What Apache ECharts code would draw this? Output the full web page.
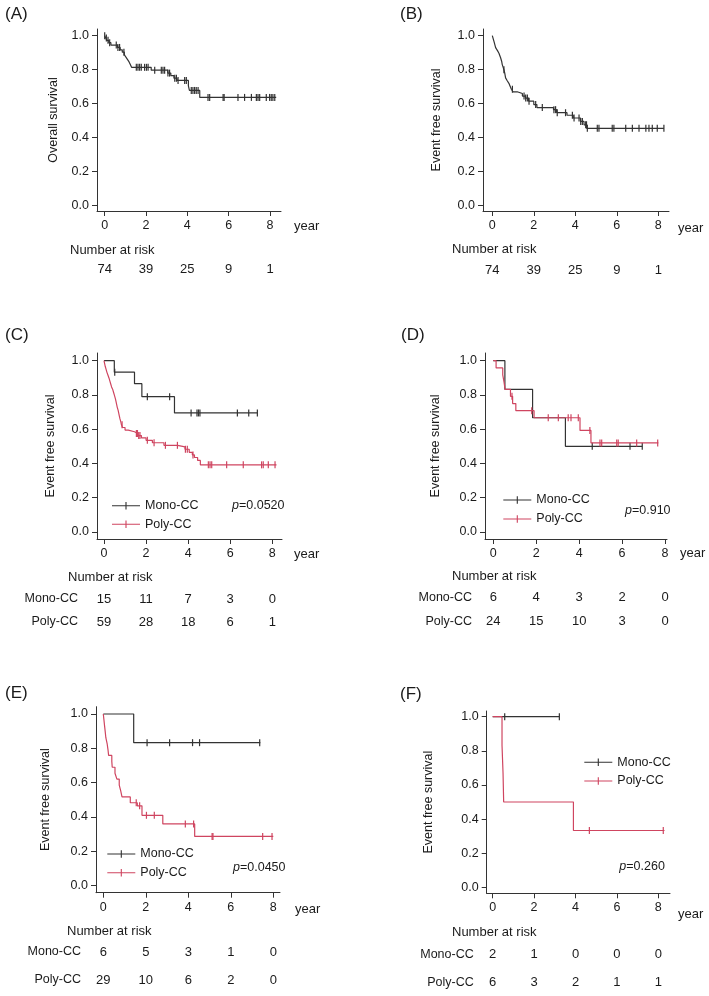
<!DOCTYPE html>
<html>
<head>
<meta charset="utf-8">
<script src="https://cdn.jsdelivr.net/npm/echarts@6/dist/echarts.min.js"></script>
<style>
  html, body { margin: 0; padding: 0; background: #fff; }
  #main { width: 709px; height: 996px; }
</style>
</head>
<body>
<div id="main"></div>
<script>
// ---- data ----
const xTicks = [0, 2, 4, 6, 8];
const yTicks = [0, 0.2, 0.4, 0.6, 0.8, 1.0];
const riskTimes = [0, 2, 4, 6, 8];

// (A) overall survival, all patients
const stepsA = [[0,1],[0.05,0.986],[0.1,0.973],[0.2,0.959],[0.3,0.945],[0.62,0.931],[0.75,0.917],[0.85,0.903],[0.95,0.889],[1.02,0.875],[1.1,0.861],[1.18,0.846],[1.24,0.83],[1.3,0.814],[2.25,0.797],[3.05,0.78],[3.2,0.765],[3.35,0.75],[3.5,0.737],[4.05,0.705],[4.1,0.678],[4.6,0.637]];
const endA = 8.3;
const censorA = [0,0.08,0.16,0.24,0.56,0.64,0.72,0.93,1.53,1.61,1.69,1.77,1.93,2.02,2.1,2.42,2.74,2.82,2.9,3.06,3.14,3.39,3.47,3.55,3.87,3.95,4.19,4.27,4.35,4.43,4.52,5.0,5.08,5.73,5.78,6.45,6.77,7.1,7.34,7.42,7.5,7.82,7.98,8.06,8.14,8.23];
const riskA = [74, 39, 25, 9, 1];

// (B) event free survival, all patients
const stepsB = [[0,1],[0.08,0.967],[0.16,0.93],[0.25,0.912],[0.32,0.897],[0.4,0.87],[0.45,0.85],[0.48,0.83],[0.52,0.815],[0.56,0.8],[0.6,0.78],[0.64,0.752],[0.72,0.735],[0.8,0.72],[0.87,0.7],[0.92,0.685],[1.0,0.67],[1.2,0.66],[1.45,0.645],[1.6,0.633],[1.75,0.615],[2.0,0.595],[2.15,0.577],[2.95,0.565],[3.1,0.547],[3.6,0.532],[3.9,0.516],[4.25,0.496],[4.42,0.476],[4.55,0.455]];
const endB = 8.27;
const censorB = [0.56,0.97,1.53,1.61,1.69,1.77,2.09,2.41,2.97,3.05,3.13,3.53,3.86,3.94,4.18,4.26,4.34,4.5,4.54,4.58,5.06,5.14,5.78,5.86,6.43,6.75,7.07,7.4,7.55,7.71,7.95,8.27];
const riskB = [74, 39, 25, 9, 1];

// (C)
const stepsCMono = [[0,1],[0.49,0.933],[1.45,0.866],[1.8,0.79],[3.35,0.695]];
const endCMono = 7.29;
const censorCMono = [0.51,2.06,3.12,4.14,4.42,4.49,4.56,6.34,6.88,7.29];
const stepsCPoly = [[0,1],[0.03,0.983],[0.06,0.966],[0.1,0.949],[0.14,0.932],[0.19,0.915],[0.24,0.898],[0.28,0.881],[0.32,0.864],[0.36,0.847],[0.42,0.83],[0.46,0.813],[0.5,0.796],[0.54,0.779],[0.57,0.762],[0.6,0.745],[0.63,0.728],[0.67,0.711],[0.7,0.694],[0.73,0.677],[0.76,0.66],[0.8,0.643],[0.83,0.626],[0.88,0.61],[1.0,0.595],[1.15,0.585],[1.45,0.575],[1.6,0.563],[1.78,0.549],[2.0,0.535],[2.3,0.521],[2.85,0.506],[3.5,0.497],[3.85,0.483],[4.05,0.465],[4.2,0.45],[4.3,0.435],[4.45,0.418],[4.58,0.392]];
const endCPoly = 8.2;
const censorCPoly = [0.86,1.54,1.59,1.65,1.71,2.06,2.38,2.92,3.49,3.87,3.96,4.23,4.96,5.04,5.12,5.83,6.62,7.49,7.57,7.81,8.13];
const riskCMono = [15, 11, 7, 3, 0];
const riskCPoly = [59, 28, 18, 6, 1];

// (D)
const stepsDMono = [[0,1],[0.54,0.833],[1.83,0.667],[3.36,0.5]];
const endDMono = 6.94;
const censorDMono = [4.61,6.37,6.94];
const stepsDPoly = [[0,1],[0.13,0.958],[0.44,0.917],[0.5,0.875],[0.55,0.833],[0.8,0.792],[0.9,0.75],[1.05,0.708],[1.9,0.667],[4.04,0.593],[4.55,0.52]];
const endDPoly = 7.69;
const censorDPoly = [0.87,1.79,2.56,3.03,3.49,3.62,3.96,4.5,4.97,5.05,5.75,5.82,6.68,7.66];
const riskDMono = [6, 4, 3, 2, 0];
const riskDPoly = [24, 15, 10, 3, 0];

// (E)
const stepsEMono = [[0,1],[1.43,0.833]];
const endEMono = 7.39;
const censorEMono = [2.06,3.12,4.2,4.53,7.36];
const stepsEPoly = [[0,1],[0.03,0.966],[0.06,0.931],[0.09,0.897],[0.12,0.862],[0.18,0.828],[0.22,0.793],[0.25,0.759],[0.4,0.724],[0.42,0.69],[0.55,0.655],[0.64,0.621],[0.75,0.586],[0.82,0.552],[0.88,0.517],[1.27,0.483],[1.6,0.465],[1.82,0.41],[2.8,0.36],[4.3,0.287]];
const endEPoly = 8.0;
const censorEPoly = [1.55,1.71,2.03,2.4,3.86,4.25,5.12,5.16,7.5,7.94];
const riskEMono = [6, 5, 3, 1, 0];
const riskEPoly = [29, 10, 6, 2, 0];

// (F)
const stepsFMono = [[0,1]];
const endFMono = 3.22;
const censorFMono = [0.58,3.22];
const stepsFPoly = [[0,1],[0.45,0.833],[0.5,0.667],[0.53,0.5],[3.9,0.333]];
const endFPoly = 8.3;
const censorFPoly = [4.67,8.24];
const riskFMono = [2, 1, 0, 0, 0];
const riskFPoly = [6, 3, 2, 1, 1];

// ---- styling ----
const FONT = '"Liberation Sans", Arial, sans-serif';
const INK = '#1a1a1a';
const AXIS = '#333333';
const BLACK = '#333333';
const RED = '#cf4560';
const tickIcon = 'path://M0,3.4L30,3.4L30,4.6L0,4.6Z M14.4,0L15.6,0L15.6,8L14.4,8Z';

function survAt(steps, t) {
  let s = steps[0][1];
  steps.forEach(function (p) { if (p[0] <= t) s = p[1]; });
  return s;
}

const panels = [
  { label: '(A)', yName: 'Overall survival', nameGap: 37,
    box: { axisX: 97, axisY: 211, x0: 104.7, x8: 270, y1: 35.7, y0: 205.7, right: 281, top: 29 },
    labelPos: [5, 14], yearPos: [294, 226], narPos: [70, 250],
    curves: [{ name: 'All', steps: stepsA, end: endA, censor: censorA, color: BLACK }],
    risk: { rows: [{ name: 'All', counts: riskA }], y: [269], rowH: 20 } },
  { label: '(B)', yName: 'Event free survival', nameGap: 40,
    box: { axisX: 483, axisY: 211, x0: 492.3, x8: 658.3, y1: 35.7, y0: 205.7, right: 669, top: 29 },
    labelPos: [400, 14], yearPos: [678, 228], narPos: [452, 249],
    curves: [{ name: 'All', steps: stepsB, end: endB, censor: censorB, color: BLACK }],
    risk: { rows: [{ name: 'All', counts: riskB }], y: [270], rowH: 20 } },
  { label: '(C)', yName: 'Event free survival', nameGap: 40,
    box: { axisX: 97, axisY: 539, x0: 104, x8: 272.3, y1: 360.7, y0: 532, right: 282, top: 353 },
    labelPos: [5, 335], yearPos: [294, 554], narPos: [68, 577],
    curves: [
      { name: 'Mono-CC', steps: stepsCMono, end: endCMono, censor: censorCMono, color: BLACK },
      { name: 'Poly-CC', steps: stepsCPoly, end: endCPoly, censor: censorCPoly, color: RED }],
    risk: { rows: [{ name: 'Mono-CC', counts: riskCMono }, { name: 'Poly-CC', counts: riskCPoly }], y: [599], rowH: 23, labelGap: 19 },
    legend: { x: 112, y: 505.7, gap: 18.6 }, p: { x: 232, y: 505.7, text: '0.0520' } },
  { label: '(D)', yName: 'Event free survival', nameGap: 43,
    box: { axisX: 485, axisY: 539, x0: 493.3, x8: 665, y1: 360.7, y0: 532, right: 667, top: 353 },
    labelPos: [401, 335], yearPos: [680, 553], narPos: [452, 576],
    curves: [
      { name: 'Mono-CC', steps: stepsDMono, end: endDMono, censor: censorDMono, color: BLACK },
      { name: 'Poly-CC', steps: stepsDPoly, end: endDPoly, censor: censorDPoly, color: RED }],
    risk: { rows: [{ name: 'Mono-CC', counts: riskDMono }, { name: 'Poly-CC', counts: riskDPoly }], y: [597.7], rowH: 24, labelGap: 13 },
    legend: { x: 503.3, y: 500, gap: 19 }, p: { x: 625, y: 510.7, text: '0.910' } },
  { label: '(E)', yName: 'Event free survival', nameGap: 44,
    box: { axisX: 96, axisY: 892.7, x0: 103.3, x8: 273.3, y1: 714, y0: 885.7, right: 280, top: 706.7 },
    labelPos: [5, 693], yearPos: [295, 909], narPos: [67, 931],
    curves: [
      { name: 'Mono-CC', steps: stepsEMono, end: endEMono, censor: censorEMono, color: BLACK },
      { name: 'Poly-CC', steps: stepsEPoly, end: endEPoly, censor: censorEPoly, color: RED }],
    risk: { rows: [{ name: 'Mono-CC', counts: riskEMono }, { name: 'Poly-CC', counts: riskEPoly }], y: [952], rowH: 28, labelGap: 15 },
    legend: { x: 107.3, y: 854, gap: 18.7 }, p: { x: 233, y: 867.3, text: '0.0450' } },
  { label: '(F)', yName: 'Event free survival', nameGap: 52,
    box: { axisX: 486.7, axisY: 893.3, x0: 492.7, x8: 658.3, y1: 716.7, y0: 887.3, right: 670, top: 711 },
    labelPos: [400, 694], yearPos: [678, 914], narPos: [452, 932],
    curves: [
      { name: 'Mono-CC', steps: stepsFMono, end: endFMono, censor: censorFMono, color: BLACK },
      { name: 'Poly-CC', steps: stepsFPoly, end: endFPoly, censor: censorFPoly, color: RED }],
    risk: { rows: [{ name: 'Mono-CC', counts: riskFMono }, { name: 'Poly-CC', counts: riskFPoly }], y: [955], rowH: 28, labelGap: 13 },
    legend: { x: 584.3, y: 762.3, gap: 18.7 }, p: { x: 619.3, y: 866.7, text: '0.260' } }
];

const option = { animation: false, grid: [], xAxis: [], yAxis: [], series: [], legend: [], graphic: [] };

function addText(x, y, text, size) {
  option.graphic.push({ type: 'text', x: x, y: y, silent: true,
    style: { text: text, fontSize: size, fontFamily: FONT, fill: INK, verticalAlign: 'middle' } });
}

panels.forEach(function (p) {
  const b = p.box;
  const perX = (b.x8 - b.x0) / 8, perY = b.y0 - b.y1;
  const xMin = (b.axisX - b.x0) / perX, xMax = (b.right - b.x0) / perX;
  const yMin = -(b.axisY - b.y0) / perY, yMax = (b.y0 - b.top) / perY;

  // survival plot
  const gi = option.grid.length;
  option.grid.push({ left: b.axisX, top: b.top, width: b.right - b.axisX, height: b.axisY - b.top });
  option.xAxis.push({
    gridIndex: gi, type: 'value', min: xMin, max: xMax,
    axisLine: { onZero: false, lineStyle: { color: AXIS, width: 1 } },
    axisTick: { customValues: xTicks, length: 5, lineStyle: { color: AXIS } },
    axisLabel: { customValues: xTicks, margin: 8, color: INK, fontSize: 12.5, fontFamily: FONT },
    splitLine: { show: false }
  });
  option.yAxis.push({
    gridIndex: gi, type: 'value', min: yMin, max: yMax,
    name: p.yName, nameLocation: 'middle', nameGap: p.nameGap, nameRotate: 90,
    nameTextStyle: { color: INK, fontSize: 12.5, fontFamily: FONT },
    axisLine: { show: true, onZero: false, lineStyle: { color: AXIS, width: 1 } },
    axisTick: { show: true, customValues: yTicks, length: 5, lineStyle: { color: AXIS } },
    axisLabel: { customValues: yTicks, margin: 8, color: INK, fontSize: 12.5, fontFamily: FONT,
      formatter: function (v) { return v.toFixed(1); } },
    splitLine: { show: false }
  });
  p.curves.forEach(function (c, k) {
    const last = c.steps[c.steps.length - 1][1];
    option.series.push({
      type: 'line', name: c.name, xAxisIndex: gi, yAxisIndex: gi, step: 'end',
      data: c.steps.concat([[c.end, last]]), symbol: 'none', showSymbol: false,
      lineStyle: { color: c.color, width: 1.2 }, itemStyle: { color: c.color }, z: 2 + k, silent: true
    });
    option.series.push({
      type: 'scatter', name: c.name + ' censored', xAxisIndex: gi, yAxisIndex: gi,
      data: c.censor.map(function (t) { return [t, survAt(c.steps, t)]; }),
      symbol: 'rect', symbolSize: [1.2, 7], itemStyle: { color: c.color, opacity: 1 }, z: 2 + k, silent: true
    });
  });

  // number-at-risk table, sharing the same x scale
  const r = p.risk;
  const ri = option.grid.length;
  const rowNames = r.rows.map(function (row) { return row.name; });
  option.grid.push({ left: b.axisX, top: r.y[0] - r.rowH / 2, width: b.right - b.axisX, height: r.rowH * r.rows.length });
  option.xAxis.push({ gridIndex: ri, type: 'value', min: xMin, max: xMax, show: false });
  option.yAxis.push({
    gridIndex: ri, type: 'category', data: rowNames, inverse: true,
    axisLine: { show: false }, axisTick: { show: false }, splitLine: { show: false },
    axisLabel: { show: r.rows.length > 1, margin: r.labelGap || 10, color: INK, fontSize: 12.5, fontFamily: FONT }
  });
  r.rows.forEach(function (row) {
    option.series.push({
      type: 'scatter', name: 'risk ' + row.name, xAxisIndex: ri, yAxisIndex: ri,
      symbolSize: 1, itemStyle: { color: 'transparent', opacity: 1 }, silent: true,
      data: riskTimes.map(function (t, i) { return [t, row.name, row.counts[i]]; }),
      label: { show: true, position: 'inside', color: INK, opacity: 1, textBorderWidth: 0,
        fontSize: 13, fontFamily: FONT,
        formatter: function (q) { return String(q.value[2]); } }
    });
  });

  // legend
  if (p.legend) {
    option.legend.push({
      left: p.legend.x, top: p.legend.y - 7, orient: 'vertical', padding: 0,
      itemWidth: 28, itemHeight: 8, itemGap: p.legend.gap - 14, selectedMode: false,
      data: [{ name: 'Mono-CC', icon: tickIcon }, { name: 'Poly-CC', icon: tickIcon }],
      textStyle: { color: INK, fontSize: 12.5, fontFamily: FONT, lineHeight: 14 }
    });
  }
  if (p.p) {
    option.graphic.push({ type: 'text', x: p.p.x, y: p.p.y, silent: true,
      style: { text: '{i|p}=' + p.p.text, fontSize: 12.5, fontFamily: FONT, fill: INK, verticalAlign: 'middle',
        rich: { i: { fontStyle: 'italic', fontSize: 12.5, fontFamily: FONT, fill: INK } } } });
  }

  addText(p.labelPos[0], p.labelPos[1], p.label, 17);
  addText(p.yearPos[0], p.yearPos[1], 'year', 13);
  addText(p.narPos[0], p.narPos[1], 'Number at risk', 13);
});

const chart = echarts.init(document.getElementById('main'), null, { renderer: 'canvas' });
chart.setOption(option);
</script>
</body>
</html>
